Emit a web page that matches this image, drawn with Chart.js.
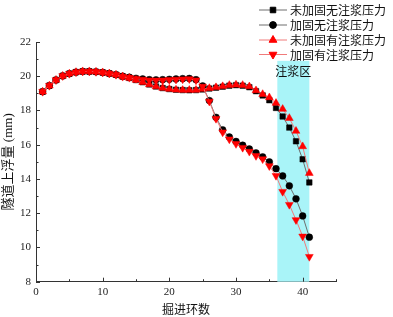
<!DOCTYPE html>
<html><head><meta charset="utf-8">
<script src="https://cdn.jsdelivr.net/npm/chart.js@4"></script>
<style>html,body{margin:0;padding:0;background:#fff}#wrap{width:393px;height:317px;position:relative}</style>
</head><body><div id="wrap"><canvas id="c"></canvas></div>
<script>
const rings = [1,2,3,4,5,6,7,8,9,10,11,12,13,14,15,16,17,18,19,20,21,22,23,24,25,26,27,28,29,30,31,32,33,34,35,36,37,38,39,40,41];
const seriesNames = ['未加固无注浆压力','加固无注浆压力','未加固有注浆压力','加固有注浆压力'];
const unreinforcedNoGrout = [19.1,19.45,19.78,20.02,20.15,20.24,20.28,20.28,20.26,20.22,20.16,20.09,19.98,19.9,19.78,19.65,19.52,19.4,19.31,19.25,19.21,19.19,19.18,19.19,19.23,19.28,19.33,19.39,19.45,19.48,19.45,19.36,19.13,18.88,18.6,18.15,17.65,17.0,16.2,15.15,13.8];
const reinforcedNoGrout = [19.1,19.45,19.78,20.02,20.15,20.24,20.28,20.28,20.26,20.22,20.16,20.09,20.0,19.94,19.88,19.84,19.8,19.79,19.8,19.82,19.84,19.86,19.87,19.8,19.43,18.58,17.6,16.87,16.45,16.19,15.97,15.75,15.52,15.29,15.0,14.6,14.18,13.6,12.84,11.84,10.6];
const unreinforcedGrout = [19.1,19.45,19.78,20.02,20.15,20.24,20.28,20.28,20.26,20.22,20.16,20.09,19.98,19.9,19.78,19.65,19.52,19.4,19.31,19.25,19.21,19.19,19.19,19.2,19.25,19.3,19.35,19.41,19.48,19.5,19.48,19.4,19.17,18.95,18.76,18.43,18.08,17.55,16.8,15.9,14.34];
const reinforcedGrout = [19.1,19.45,19.78,20.02,20.15,20.24,20.28,20.28,20.26,20.22,20.16,20.09,19.98,19.92,19.86,19.81,19.77,19.76,19.77,19.79,19.81,19.83,19.84,19.77,19.4,18.53,17.52,16.73,16.32,16.05,15.83,15.6,15.35,15.16,14.76,14.19,13.26,12.5,11.61,10.65,9.46];
const xTicks = [0,10,20,30,40];
const yTicks = [8,10,12,14,16,18,20,22];
const xRange = [0,45];
const groutZone = [36.2,41];
const groutZoneTop = 20.9;
const groutLabel = '注浆区';
const groutLabelY = 20.26;
const xTitle = '掘进环数';
const yTitle = '隧道上浮量 (mm)';

const SERIF = '"Liberation Serif","Noto Sans CJK SC",serif';
const styles = [
  {line:'#6e6e6e', pt:'#000', shape:'rect', r:3.9, rot:0},
  {line:'#6e6e6e', pt:'#000', shape:'circle', r:3.4, rot:0},
  {line:'#f07a7a', pt:'#ff0000', shape:'triangle', r:4.5, rot:0},
  {line:'#f07a7a', pt:'#ff0000', shape:'triangle', r:4.5, rot:180}
];
const allSeries = [unreinforcedNoGrout, reinforcedNoGrout, unreinforcedGrout, reinforcedGrout];

const datasets = allSeries.map((vals,i)=>({
  label: seriesNames[i],
  data: rings.map((r,j)=>({x:r,y:vals[j]})),
  borderColor: styles[i].line,
  borderWidth: 1,
  pointStyle: styles[i].shape,
  pointRotation: styles[i].rot,
  pointRadius: styles[i].r,
  pointBackgroundColor: styles[i].pt,
  pointBorderColor: styles[i].pt,
  pointBorderWidth: 0.5,
  order: 4-i,
  tension: 0
}));

const overlay = {
  id:'overlay',
  beforeDatasetsDraw(chart){
    const {ctx, scales:{x,y}} = chart;
    const l = x.getPixelForValue(groutZone[0]), r = x.getPixelForValue(groutZone[1]);
    const t = y.getPixelForValue(groutZoneTop), b = y.getPixelForValue(yTicks[0]);
    ctx.save();
    ctx.fillStyle = '#a9f4f8';
    ctx.fillRect(l,t,r-l,b-t);
    ctx.fillStyle = '#111';
    ctx.font = '12px "Noto Sans CJK SC"';
    ctx.textAlign='center'; ctx.textBaseline='middle';
    ctx.fillText(groutLabel,(l+r)/2,y.getPixelForValue(groutLabelY));
    ctx.restore();
  },
  afterDraw(chart){
    const {ctx, scales:{x,y}} = chart;
    ctx.save();
    ctx.strokeStyle = '#333'; ctx.lineWidth = 1;
    const yb = y.getPixelForValue(yTicks[0]);
    const xl = x.getPixelForValue(xRange[0]);
    ctx.beginPath();
    xTicks.forEach(v=>{const px=Math.round(x.getPixelForValue(v))+0.5; ctx.moveTo(px,yb); ctx.lineTo(px,yb-4);});
    xTicks.forEach(v=>{const px=Math.round(x.getPixelForValue(v+5))+0.5; ctx.moveTo(px,yb); ctx.lineTo(px,yb-2.5);});
    yTicks.forEach(v=>{const py=Math.round(y.getPixelForValue(v))+0.5; ctx.moveTo(xl,py); ctx.lineTo(xl+4,py);});
    yTicks.slice(0,-1).forEach(v=>{const py=Math.round(y.getPixelForValue(v+1))+0.5; ctx.moveTo(xl,py); ctx.lineTo(xl+2.5,py);});
    ctx.stroke();
    const rowY = [10,25,40,54.5];
    seriesNames.forEach((name,i)=>{
      const s = styles[i];
      ctx.strokeStyle = s.line; ctx.lineWidth = 1;
      ctx.beginPath(); ctx.moveTo(259,rowY[i]); ctx.lineTo(287,rowY[i]); ctx.stroke();
      ctx.fillStyle = s.pt; ctx.strokeStyle = s.pt;
      Chart.helpers.drawPoint(ctx,{pointStyle:s.shape,radius:s.r,rotation:s.rot,borderWidth:0.5},273,rowY[i]);
      ctx.fillStyle = '#111';
      ctx.font = '12px "Noto Sans CJK SC"';
      ctx.textAlign='left'; ctx.textBaseline='middle';
      ctx.fillText(name,290,rowY[i]+0.5);
    });
    ctx.restore();
  }
};

new Chart(document.getElementById('c'),{
  type:'line',
  data:{datasets},
  options:{
    responsive:true, maintainAspectRatio:false, animation:false,
    layout:{padding:{top:42,right:57,left:0,bottom:0}},
    plugins:{legend:{display:false},tooltip:{enabled:false}},
    scales:{
      x:{type:'linear',min:xRange[0],max:xRange[1],
        afterBuildTicks:(s)=>{s.ticks = xTicks.map(v=>({value:v}));},
        afterFit:(s)=>{s.height=35.3;},
        grid:{drawOnChartArea:false,drawTicks:false},
        border:{display:true,color:'#333',width:1},
        ticks:{padding:4,color:'#222',font:{family:SERIF,size:11},maxRotation:0,autoSkip:false},
        title:{display:true,text:xTitle,color:'#111',font:{family:'"Noto Sans CJK SC"',size:12},padding:{top:0,bottom:0}}
      },
      y:{type:'linear',min:yTicks[0],max:yTicks[yTicks.length-1],
        afterBuildTicks:(s)=>{s.ticks = yTicks.map(v=>({value:v}));},
        afterFit:(s)=>{s.width=36;},
        grid:{drawOnChartArea:false,drawTicks:false},
        border:{display:true,color:'#333',width:1},
        ticks:{padding:5,color:'#222',font:{family:SERIF,size:11},autoSkip:false},
        title:{display:true,text:yTitle,color:'#111',font:{family:SERIF,size:13},padding:{top:1,bottom:0}}
      }
    }
  },
  plugins:[overlay]
});
</script></body></html>
